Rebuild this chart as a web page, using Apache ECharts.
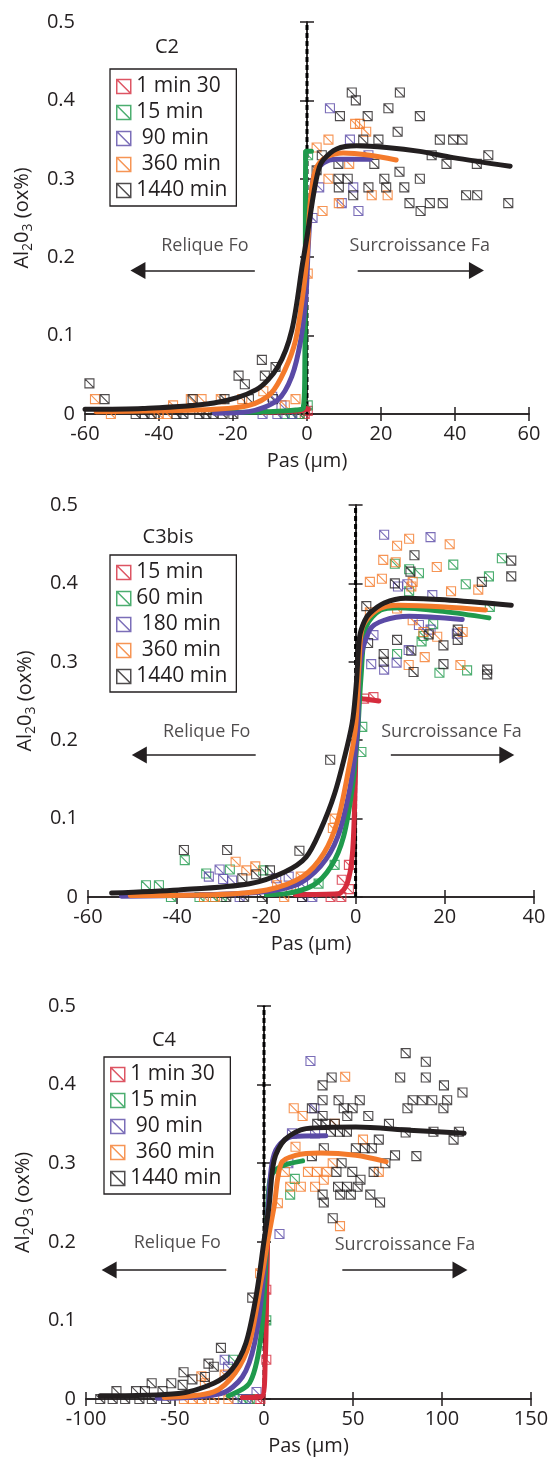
<!DOCTYPE html>
<html><head><meta charset="utf-8">
<script src="https://cdn.jsdelivr.net/npm/echarts@6/dist/echarts.min.js"></script>
<style>html,body{margin:0;padding:0;background:#fff}#c{width:558px;height:1459px}</style>
</head><body><div id="c"></div>
<script>
// ---------- shared labels ----------
const panelTags = ['C2', 'C3bis', 'C4'];
const c2Labels = ['1 min 30', '15 min', ' 90 min', ' 360 min', '1440 min'];
const c3Labels = ['15 min', '60 min', ' 180 min', ' 360 min', '1440 min'];
const c4Labels = ['1 min 30', '15 min', ' 90 min', ' 360 min', '1440 min'];
const yTicks = ['0', '0.1', '0.2', '0.3', '0.4', '0.5'];
const xRanges = [[-60, 60, 20], [-60, 40, 20], [-100, 150, 50]];
const zeroLine = [[0, 0], [0, 0.5]];

// ---------- C2 ----------
const c2Red = [[-2, 0.0], [-0.6, 0.0], [0.2, 0.004]];
const c2RedFit = [[-12, 0.002], [-6, 0.003], [-2, 0.004], [0, 0.006], [0.4, 0.006]];
const c2Green = [[-6, 0.0], [-4, 0.0], [-2, 0.0], [0.2, 0.011], [0.3, 0.33]];
const c2GreenFit = [[-25, 0.002], [-10, 0.003], [-3, 0.005], [-1, 0.008], [-0.6, 0.05], [-0.45, 0.2], [-0.3, 0.335], [1.2, 0.335]];
const c2Purple = [[6.2, 0.39], [11.6, 0.35], [16.6, 0.33], [3.3, 0.289], [12.5, 0.289], [13.9, 0.259], [9.4, 0.269], [-9.4, 0.022], [-6.9, 0.011], [-12, 0], [-8, 0], [-4, 0], [1.5, 0.25]];
const c2PurpleFit = [[-25, 0.001], [-15.7, 0.003], [-7.9, 0.018], [-4.1, 0.048], [-1.7, 0.094], [-0.3, 0.15], [0.3, 0.21], [0.8, 0.25], [1.8, 0.303], [4.4, 0.32], [8, 0.325], [17, 0.325]];
const c2Orange = [[13, 0.37], [14.3, 0.37], [16, 0.36], [5.8, 0.35], [2.6, 0.34], [11.4, 0.319], [5.8, 0.3], [17.5, 0.279], [21.8, 0.279], [8.6, 0.269], [4.2, 0.259], [0.2, 0.179], [-57.3, 0.019], [-53, 0], [-36.2, 0.011], [-31.4, 0.019], [-28.5, 0.019], [-23.3, 0.019], [-11.8, 0.029], [-6, 0.011], [-3.1, 0.019], [-40.1, 0], [-37.7, 0], [-17.5, 0.019]];
const c2OrangeFit = [[-57, 0.003], [-40, 0.004], [-25, 0.006], [-15.7, 0.011], [-9.8, 0.026], [-6, 0.056], [-3.1, 0.094], [-1.2, 0.15], [0, 0.2], [0.7, 0.26], [1.5, 0.294], [2.6, 0.315], [5.3, 0.328], [9.8, 0.333], [17, 0.33], [24.1, 0.324]];
const c2Black = [[12.1, 0.41], [13.2, 0.4], [25.1, 0.41], [8.9, 0.38], [16.4, 0.38], [22, 0.39], [30.5, 0.38], [24.5, 0.36], [15.2, 0.35], [19.3, 0.35], [35.9, 0.35], [39.5, 0.35], [42, 0.35], [49, 0.33], [33.7, 0.33], [4, 0.33], [8.5, 0.319], [18.2, 0.319], [37.7, 0.319], [45.9, 0.319], [2.6, 0.311], [25, 0.309], [8.5, 0.3], [11, 0.3], [20.9, 0.3], [30.5, 0.3], [8.6, 0.289], [16.6, 0.289], [21.4, 0.289], [26.3, 0.289], [12.5, 0.279], [43, 0.279], [46, 0.279], [27.7, 0.269], [33.2, 0.269], [36.7, 0.269], [54.4, 0.269], [30.7, 0.259],
  [-58.8, 0.039], [-54.7, 0.019], [-30.9, 0.019], [-22.3, 0.019], [-12.2, 0.069], [-18.5, 0.049], [-16.8, 0.038], [-11.4, 0.049], [-8.5, 0.06], [-9.2, 0.019], [-15.7, 0.019], [-46.3, 0], [-43.9, 0], [-42, 0], [-35.3, 0], [-33.4, 0], [-29.1, 0], [-27.2, 0], [-25.3, 0], [-22.8, 0], [-19.9, 0]];
const c2BlackFit = [[-60, 0.006], [-44.4, 0.007], [-25.2, 0.014], [-13.7, 0.031], [-7.9, 0.06], [-4.1, 0.107], [-1.2, 0.192], [0, 0.226], [1.8, 0.281], [3.1, 0.311], [4.4, 0.324], [8, 0.338], [13.4, 0.342], [21.5, 0.34], [30.5, 0.335], [39.5, 0.327], [54.9, 0.316]];

// ---------- C3bis ----------
const c3Red = [[1.9, 0.253], [4.0, 0.255], [-1.5, 0.041], [-3.1, 0.022], [-3.2, 0], [-1.5, 0.01], [-5.6, 0]];
const c3RedFit = [[-13.5, 0.003], [-4, 0.004], [-1.9, 0.017], [-0.7, 0.056], [-0.1, 0.141], [0.3, 0.23], [1.2, 0.253], [5.2, 0.25]];
const c3Green = [[8.8, 0.425], [12, 0.418], [14.2, 0.413], [21.9, 0.424], [24.7, 0.399], [29.9, 0.409], [32.8, 0.432], [12, 0.39], [9.3, 0.31], [15.2, 0.333], [14.8, 0.326], [17.4, 0.348], [18.8, 0.286], [25, 0.289], [30.1, 0.37],
  [-38.3, 0.047], [-33.5, 0.03], [-28.2, 0.035], [-47, 0.015], [-44.1, 0.015], [-41.4, 0], [-35, 0], [-32, 0], [-30, 0], [-20.7, 0.034], [-8.3, 0.017], [-4.7, 0.041], [1.5, 0.217], [1.3, 0.185]];
const c3GreenFit = [[-20, 0.003], [-16, 0.004], [-9.5, 0.015], [-5.5, 0.039], [-2.7, 0.077], [-0.7, 0.141], [0.4, 0.205], [1.2, 0.28], [2.4, 0.345], [5.6, 0.366], [9.6, 0.369], [20, 0.364], [29.9, 0.356]];
const c3Purple = [[6.4, 0.462], [16.8, 0.459], [9.5, 0.396], [11.6, 0.399], [17.2, 0.385], [14.2, 0.347], [4, 0.334], [3.5, 0.297], [6.4, 0.29], [9.2, 0.299], [11.9, 0.315], [16.8, 0.341], [22.7, 0.336],
  [-32.9, 0.026], [-30.5, 0.035], [-29.7, 0.023], [-27.7, 0.021], [-17.8, 0.024], [-15, 0.026], [-11.8, 0.015], [-9.7, 0], [-26, 0], [-12, 0]];
const c3PurpleFit = [[-52.5, 0.001], [-23.8, 0.005], [-13.5, 0.015], [-7.9, 0.039], [-4, 0.077], [-1.2, 0.141], [0.4, 0.209], [0.9, 0.294], [3.2, 0.341], [6.4, 0.353], [12, 0.358], [23.9, 0.354]];
const c3Orange = [[9.3, 0.448], [12, 0.457], [21.1, 0.45], [6.2, 0.43], [9, 0.427], [18.2, 0.421], [3.2, 0.402], [5.9, 0.406], [12.8, 0.402], [12.5, 0.396], [21.4, 0.39], [27.5, 0.392], [9.3, 0.368], [12.8, 0.353], [15.2, 0.338], [18.3, 0.332], [24, 0.338], [15.5, 0.306], [11.9, 0.296], [23.5, 0.296], [3.2, 0.363],
  [-26.9, 0.045], [-24.5, 0.034], [-22.5, 0.039], [-4.7, 0.1], [-5.1, 0.088], [-12.3, 0.026], [-17.6, 0.015], [-34, 0], [-31.5, 0], [-16, 0], [-14.5, 0.011]];
const c3OrangeFit = [[-50.5, 0.002], [-31.8, 0.003], [-19.9, 0.009], [-11.9, 0.026], [-7.1, 0.056], [-4, 0.098], [-1.6, 0.162], [0, 0.217], [0.8, 0.3], [1.6, 0.345], [4.8, 0.366], [9.6, 0.372], [20, 0.37], [29.1, 0.366]];
const c3Black = [[13.2, 0.436], [12.3, 0.415], [8.8, 0.4], [2.4, 0.371], [28.3, 0.402], [34.9, 0.429], [34.9, 0.409], [9.3, 0.328], [12.5, 0.314], [6.3, 0.31], [6.3, 0.3], [13, 0.287], [16.4, 0.335], [19.7, 0.321], [19.7, 0.297], [22.9, 0.341], [22.9, 0.328], [29.5, 0.29], [29.5, 0.284], [2.8, 0.324],
  [-38.5, 0.06], [-28.8, 0.06], [-12.6, 0.059], [-5.7, 0.175], [-25.4, 0.024], [-22.3, 0.029], [-19.2, 0.034], [-29, 0], [-25, 0], [-21, 0], [-12, 0]];
const c3BlackFit = [[-54.7, 0.005], [-39.7, 0.009], [-23.8, 0.017], [-15.9, 0.032], [-11.1, 0.051], [-7.9, 0.085], [-4.7, 0.132], [-1.9, 0.192], [-0.6, 0.228], [0.2, 0.275], [0.9, 0.332], [2, 0.352], [3.2, 0.362], [6.4, 0.375], [11.2, 0.381], [20, 0.379], [34.9, 0.372]];

// ---------- C4 ----------
const c4Red = [[1.3, 0.139], [1.3, 0.05], [-4, 0], [-2, 0]];
const c4RedFit = [[-12.2, 0.002], [-1.2, 0.003], [0.7, 0.05], [1.5, 0.13], [2, 0.2]];
const c4Green = [[-17.4, 0.05], [1.3, 0.1], [17.3, 0.28], [14.7, 0.26], [-12, 0], [-8, 0]];
const c4GreenFit = [[-20, 0.004], [-8.2, 0.02], [-2.2, 0.071], [0.7, 0.156], [2, 0.24], [3.8, 0.283], [9.7, 0.296], [21.7, 0.303]];
const c4Purple = [[26.1, 0.43], [28.3, 0.37], [15.7, 0.338], [28.7, 0.338], [13.7, 0.3], [-22.1, 0.05], [-20.2, 0.041], [8.7, 0.21], [-4.2, 0.009], [-15, 0], [-10, 0]];
const c4PurpleFit = [[-60, 0.001], [-24.2, 0.007], [-12.2, 0.028], [-5.3, 0.071], [-0.2, 0.156], [2.5, 0.25], [4.5, 0.3], [7.8, 0.321], [15.7, 0.334], [34.7, 0.335]];
const c4Orange = [[45.6, 0.41], [39.7, 0.35], [16.7, 0.37], [21.7, 0.36], [55.6, 0.33], [64.5, 0.289], [24.7, 0.289], [29.7, 0.289], [35.3, 0.289], [33.6, 0.279], [14.7, 0.27], [20.7, 0.27], [28.7, 0.27], [11.7, 0.289], [7.8, 0.249], [17.7, 0.321], [38.6, 0.3],
  [-35.2, 0.029], [-33.2, 0.02], [-22.1, 0.031], [-2.2, 0.16], [42.7, 0.22], [-45, 0], [-40, 0], [-35, 0], [-28, 0], [-20, 0]];
const c4OrangeFit = [[-56.1, 0.002], [-28.2, 0.009], [-16.2, 0.033], [-8.2, 0.071], [-1.2, 0.156], [2, 0.2], [5.7, 0.245], [9.7, 0.3], [17.7, 0.31], [31.7, 0.313], [51.6, 0.31], [68.6, 0.302]];
const c4Black = [[79.6, 0.44], [90.9, 0.429], [76.5, 0.409], [90.9, 0.409], [101.1, 0.399], [111.5, 0.39], [83.5, 0.38], [88.9, 0.38], [94.5, 0.38], [102.9, 0.38], [80.6, 0.37], [100.8, 0.37], [32.9, 0.399], [38, 0.409], [26.9, 0.37], [32.9, 0.38], [41.9, 0.38], [53.8, 0.38], [44.8, 0.37], [49.8, 0.37], [32.9, 0.36], [46.8, 0.36], [58.6, 0.36], [29.9, 0.35], [34.4, 0.35], [39.8, 0.35], [70.2, 0.35], [37.6, 0.34], [42.6, 0.34], [46.6, 0.34], [79.6, 0.339], [95.2, 0.34], [109.5, 0.34], [106.5, 0.33], [64.5, 0.33], [51.6, 0.319], [56.6, 0.319], [60.6, 0.319], [26.9, 0.309], [33.6, 0.319], [43.6, 0.3], [73.6, 0.31], [85.6, 0.309], [68.2, 0.3], [40.7, 0.289], [49.6, 0.289], [61.6, 0.289], [54.2, 0.279], [41.6, 0.27], [46.6, 0.27], [52.6, 0.27], [59.7, 0.26], [65.2, 0.25], [32.9, 0.26], [42.8, 0.26], [48.8, 0.26], [33.6, 0.25],
  [38.6, 0.23], [-6.6, 0.129], [-24.2, 0.065], [-31.2, 0.045], [-28.2, 0.041], [-45.2, 0.034], [-40.2, 0.025], [-33.2, 0.028], [-63.1, 0.02], [-52.1, 0.02], [-45.7, 0.018], [-82.9, 0.01], [-71.9, 0.01], [-66.9, 0.01], [-57, 0.01], [-92, 0], [-85, 0], [-78, 0], [-70, 0], [-63, 0], [-55, 0]];
const c4BlackFit = [[-92, 0.004], [-48.1, 0.007], [-28.2, 0.02], [-18.2, 0.037], [-10.2, 0.071], [-4.2, 0.134], [-0.2, 0.198], [2.8, 0.245], [5.7, 0.304], [11.7, 0.33], [23.7, 0.344], [51.6, 0.346], [81.5, 0.342], [112.4, 0.338]];

// ---------- annotations (data coordinates) ----------
const c2Notes = [[-27.6, 0.214, 'Relique Fo'], [30.5, 0.214, 'Surcroissance Fa']];
const c2Arrows = [[[-14.1, 0.183], [-45.7, 0.183]], [[13.7, 0.183], [45.8, 0.183]]];
const c3Notes = [[-33.4, 0.211, 'Relique Fo'], [21.5, 0.211, 'Surcroissance Fa']];
const c3Arrows = [[[-22.4, 0.181], [-48.5, 0.181]], [[7.9, 0.181], [33.9, 0.181]]];
const c4Notes = [[-48.7, 0.198, 'Relique Fo'], [79.2, 0.196, 'Surcroissance Fa']];
const c4Arrows = [[[-21.2, 0.164], [-87.0, 0.164]], [[44.0, 0.164], [110.1, 0.164]]];

// ---------- styling ----------
const FONT = 'Open Sans';
const INK = '#231f20';
const colors = { red: '#d52b3c', green: '#1f9a4c', purple: '#5a4aa6', orange: '#f47a2b', black: '#231f20' };
const c2Colors = [colors.red, colors.green, colors.purple, colors.orange, colors.black];
const c3Colors = [colors.red, colors.green, colors.purple, colors.orange, colors.black];
const c4Colors = [colors.red, colors.green, colors.purple, colors.orange, colors.black];
const MARK = 'path://M0,0L10,0L10,10L0,10ZM0,0L10,10';

const panels = [
  { tag: 'C2', labels: c2Labels, colors: c2Colors, pts: [c2Red, c2Green, c2Purple, c2Orange, c2Black], fits: [c2RedFit, c2GreenFit, c2PurpleFit, c2OrangeFit, c2BlackFit], notes: c2Notes, arrows: c2Arrows,
    grid: { left: 85, width: 444, top: 22, height: 392 }, legend: { left: 110, top: 69 }, title: [167, 47] },
  { tag: 'C3bis', labels: c3Labels, colors: c3Colors, pts: [c3Red, c3Green, c3Purple, c3Orange, c3Black], fits: [c3RedFit, c3GreenFit, c3PurpleFit, c3OrangeFit, c3BlackFit], notes: c3Notes, arrows: c3Arrows,
    grid: { left: 88, width: 446, top: 505, height: 392 }, legend: { left: 110, top: 555 }, title: [168, 537] },
  { tag: 'C4', labels: c4Labels, colors: c4Colors, pts: [c4Red, c4Green, c4Purple, c4Orange, c4Black], fits: [c4RedFit, c4GreenFit, c4PurpleFit, c4OrangeFit, c4BlackFit], notes: c4Notes, arrows: c4Arrows,
    grid: { left: 86, width: 445, top: 1006, height: 393 }, legend: { left: 104, top: 1057 }, title: [164, 1040] }
];

const axisLine = { show: true, lineStyle: { color: INK, width: 1.5 } };
const axisTick = { show: true, inside: true, length: 7, lineStyle: { color: INK, width: 1.5 } };
const grids = [], xAxes = [], yAxes = [], series = [], legends = [], graphics = [];

panels.forEach((p, i) => {
  grids.push(p.grid);
  const [xmin, xmax, xint] = xRanges[i];
  xAxes[i] = { type: 'value', gridIndex: i, min: xmin, max: xmax, interval: xint, position: 'bottom',
    axisLine, axisTick, splitLine: { show: false },
    axisLabel: { margin: 10, fontSize: 20, fontFamily: FONT, color: INK },
    name: 'Pas (µm)', nameLocation: 'middle', nameGap: 37,
    nameTextStyle: { fontSize: 20, fontFamily: FONT, color: INK } };
  xAxes[i + 3] = { type: 'value', gridIndex: i, min: xmin, max: xmax, interval: xint, position: 'top',
    axisLine, axisTick, splitLine: { show: false }, axisLabel: { show: false } };
  yAxes[i] = { type: 'value', gridIndex: i, min: 0, max: 0.5, interval: 0.1, position: 'left',
    axisLine, axisTick, splitLine: { show: false },
    axisLabel: { margin: 10, fontSize: 20, fontFamily: FONT, color: INK, formatter: (v) => yTicks[Math.round(v * 10)] },
    name: 'Al{s|2}0{s|3} (ox%)', nameLocation: 'middle', nameGap: 50,
    nameTextStyle: { fontSize: 20, fontFamily: FONT, color: INK,
      rich: { s: { fontSize: 14, fontFamily: FONT, color: INK, padding: [12, 0, 0, 0] } } } };
  yAxes[i + 3] = { type: 'value', gridIndex: i, min: 0, max: 0.5, interval: 0.1, position: 'right',
    axisLine, axisTick, splitLine: { show: false }, axisLabel: { show: false } };

  // dashed zero line
  series.push({ type: 'line', xAxisIndex: i, yAxisIndex: i, data: zeroLine, symbol: 'none', silent: true, z: 1,
    lineStyle: { color: '#000', width: 3, type: [5, 3] } });

  const legendData = [];
  p.labels.forEach((lab, k) => {
    const nm = p.tag + '|' + lab;
    const col = p.colors[k];
    series.push({ name: nm, type: 'scatter', xAxisIndex: i, yAxisIndex: i, data: p.pts[k],
      symbol: MARK, symbolSize: 9, z: 2,
      itemStyle: { color: 'rgba(255,255,255,0)', borderColor: col, borderWidth: 1.1 } });
    legendData.push({ name: nm, icon: MARK,
      itemStyle: { color: 'rgba(255,255,255,0)', borderColor: col, borderWidth: 1.5 } });
  });
  p.labels.forEach((lab, k) => {
    const col = p.colors[k];
    series.push({ name: p.tag + '|' + lab, type: 'line', xAxisIndex: i, yAxisIndex: i, data: p.fits[k],
      symbol: 'none', smooth: 0.3, z: 3 + k,
      lineStyle: { color: col, width: 5, cap: 'round', join: 'round' } });
  });

  // annotation text + arrows
  series.push({ type: 'scatter', xAxisIndex: i, yAxisIndex: i, data: p.notes, symbolSize: 0, silent: true, z: 6,
    label: { show: true, position: 'inside', formatter: (q) => q.value[2], fontSize: 18, fontFamily: FONT, color: INK },
    markLine: { silent: true, symbol: ['none', 'triangle'], symbolSize: [17, 15],
      lineStyle: { color: INK, width: 1.5, type: 'solid' }, label: { show: false },
      emphasis: { disabled: true },
      data: p.arrows.map((a) => [{ coord: a[0] }, { coord: a[1] }]) } });

  legends.push({ orient: 'vertical', left: p.legend.left, top: p.legend.top, data: legendData,
    formatter: (n) => n.split('|')[1], selectedMode: false,
    itemWidth: 15, itemHeight: 14, itemGap: 5, padding: [7, 9, 5, 6],
    borderColor: INK, borderWidth: 1.3, backgroundColor: '#fff',
    textStyle: { fontSize: 21, fontFamily: FONT, color: INK, lineHeight: 20 } });

  graphics.push({ type: 'text', x: p.title[0], y: p.title[1],
    style: { text: p.tag, font: '20px "Open Sans"', fill: INK, textAlign: 'center', textVerticalAlign: 'middle' } });
});

const chart = echarts.init(document.getElementById('c'), null, { renderer: 'canvas' });
chart.setOption({
  animation: false,
  backgroundColor: '#fff',
  grid: grids, xAxis: xAxes, yAxis: yAxes, series, legend: legends, graphic: graphics
});
</script></body></html>
